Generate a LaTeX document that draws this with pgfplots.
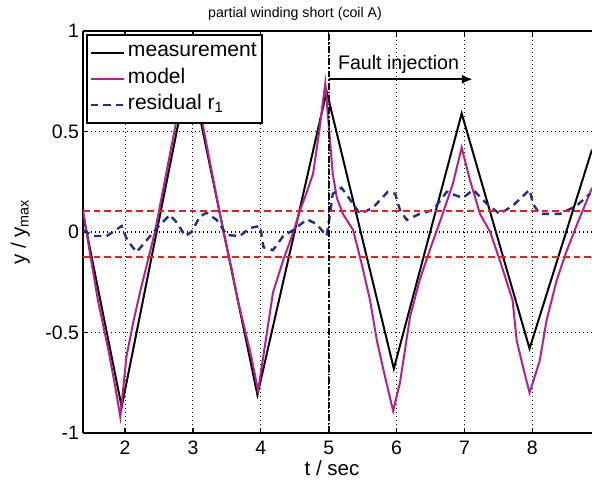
\documentclass[border=0pt]{standalone}
\usepackage{fontspec}
\setmainfont{Liberation Sans}
\usepackage{pgfplots}
\pgfplotsset{compat=1.18}
\usetikzlibrary{arrows.meta}
\definecolor{mag}{RGB}{185,30,145}
\definecolor{resblue}{RGB}{35,45,140}
\definecolor{thr}{RGB}{235,30,40}
\begin{document}
\begin{tikzpicture}
\begin{axis}[
  scale only axis,
  width=381.75pt, height=301.5pt,
  xmin=1.38, xmax=8.88, ymin=-1, ymax=1,
  axis x line=box, axis y line=left,
  x axis line style={-, line width=1.5pt},
  y axis line style={-, line width=1.5pt},
  tick align=inside,
  xtick pos=both,
  major tick length=3.5pt,
  tick style={black, line width=1pt},
  xtick={2,3,4,5,6,7,8},
  xticklabels={2,3,4,5,6,7,8},
  ytick={-1,-0.5,0,0.5,1},
  yticklabels={-1,-0.5,0,0.5,1},
  tick label style={font=\fontsize{14.6}{17}\selectfont},
  xticklabel style={anchor=base, yshift=-15.75pt, inner sep=0pt},
  yticklabel style={anchor=east, inner sep=0pt, xshift=-2.8pt},
  grid=major,
  grid style={black, line width=0.8pt, dash pattern=on 0.8pt off 2.2pt},
  legend style={at={(0.006,0.992)}, anchor=north west, draw=black, line width=1.3pt,
    font=\fontsize{15.8}{18}\selectfont, inner xsep=2pt, inner ysep=3.5pt,
    nodes={inner xsep=2pt, inner ysep=0.7pt, text height=12.2pt, text depth=6pt}},
  legend cell align=left,
  legend image code/.code={\draw[#1] (0pt,0pt) -- (25pt,0pt);},
  clip=true,
]
\addplot[black, line width=1.5pt] coordinates {
(1.38,0.09) (1.95,-0.87) (2.95,0.82) (3.95,-0.81) (4.97,0.70) (5.96,-0.68) (6.96,0.59) (7.96,-0.58) (8.88,0.41)
};
\addlegendentry{measurement}
\addplot[mag, line width=1.5pt] coordinates {
(1.38,0.11)(1.47,-0.08)(1.6,-0.34)(1.75,-0.58)(1.85,-0.76)(1.93,-0.92)(2.02,-0.62)(2.12,-0.45)(2.22,-0.30)(2.33,-0.15)(2.44,0.0)(2.6,0.28)(2.76,0.56)(2.94,0.86)(3.13,0.56)(3.3,0.26)(3.45,0.0)(3.58,-0.2)(3.66,-0.34)(3.74,-0.45)(3.86,-0.62)(3.96,-0.79)(4.09,-0.50)(4.18,-0.30)(4.33,-0.14)(4.48,0.0)(4.58,0.11)(4.68,0.2)(4.77,0.29)(4.86,0.5)(4.95,0.74)(5.06,0.29)(5.12,0.17)(5.21,0.09)(5.36,0.01)(5.48,-0.15)(5.61,-0.34)(5.71,-0.54)(5.83,-0.72)(5.95,-0.89)(6.05,-0.75)(6.2,-0.42)(6.34,-0.24)(6.5,-0.08)(6.68,0.09)(6.83,0.24)(6.96,0.42)(7.08,0.26)(7.23,0.09)(7.38,0.0)(7.55,-0.17)(7.71,-0.34)(7.77,-0.54)(7.87,-0.68)(7.96,-0.80)(8.11,-0.64)(8.21,-0.44)(8.36,-0.24)(8.5,-0.1)(8.65,0.03)(8.88,0.22)
};
\addlegendentry{model}
\addplot[resblue, line width=1.8pt, dash pattern=on 5.5pt off 4pt] coordinates {
(1.38,0.01)(1.53,-0.02)(1.73,-0.02)(1.95,0.03)(2.03,-0.04)(2.17,-0.10)(2.32,-0.04)(2.47,0.02)(2.66,0.085)(2.78,0.04)(2.88,-0.02)(2.98,0.0)(3.10,0.076)(3.20,0.096)(3.35,0.06)(3.50,-0.015)(3.69,-0.02)(3.84,0.02)(3.99,0.03)(4.04,-0.076)(4.18,-0.09)(4.33,-0.02)(4.48,0.01)(4.68,0.063)(4.82,0.04)(4.97,-0.02)(5.02,0.09)(5.06,0.19)(5.19,0.22)(5.36,0.14)(5.46,0.09)(5.65,0.12)(5.87,0.2)(5.98,0.19)(6.05,0.11)(6.15,0.06)(6.34,0.09)(6.54,0.11)(6.74,0.2)(6.89,0.18)(6.98,0.17)(7.13,0.21)(7.33,0.14)(7.52,0.09)(7.71,0.13)(7.96,0.21)(8.01,0.14)(8.11,0.09)(8.41,0.09)(8.65,0.13)(8.85,0.19)
};
\addlegendentry{residual r\textsubscript{1}}
\addplot[thr, line width=1.5pt, dash pattern=on 5pt off 3pt, forget plot] coordinates {(1.38,0.104)(8.88,0.104)};
\addplot[thr, line width=1.5pt, dash pattern=on 5pt off 3pt, forget plot] coordinates {(1.38,-0.122)(8.88,-0.122)};
\addplot[black, line width=1.3pt, dash pattern=on 5pt off 1.5pt on 1.2pt off 1.5pt, forget plot] coordinates {(5,-1)(5,1)};
\addplot[black, line width=1.5pt, -{Latex[length=8pt,width=7pt]}, forget plot] coordinates {(5,0.76)(7.12,0.76)};
\node[anchor=base, font=\fontsize{14.7}{17}\selectfont] at (axis cs:6.03,0.81) {Fault injection};
\coordinate (SW) at (rel axis cs:0,0);
\coordinate (NE) at (rel axis cs:1,1);
\coordinate (NW) at (rel axis cs:0,1);
\coordinate (W) at (rel axis cs:0,0.5);
\end{axis}
\node[anchor=base, font=\fontsize{10.6}{12}\selectfont] at ([xshift=159pt,yshift=9.75pt]NW) {partial winding short (coil A)};
\node[anchor=base, font=\fontsize{15.4}{18}\selectfont] at ([xshift=186.75pt,yshift=-31.5pt]SW) {t / sec};
\node[rotate=90, anchor=center, font=\fontsize{15.4}{18}\selectfont] at ([xshift=-47pt]W) {y / y\textsubscript{max}};
\pgfresetboundingbox
\useasboundingbox ([xshift=-62.25pt,yshift=-36.75pt]SW) rectangle ([yshift=23.25pt]NE);
\end{tikzpicture}
\end{document}
